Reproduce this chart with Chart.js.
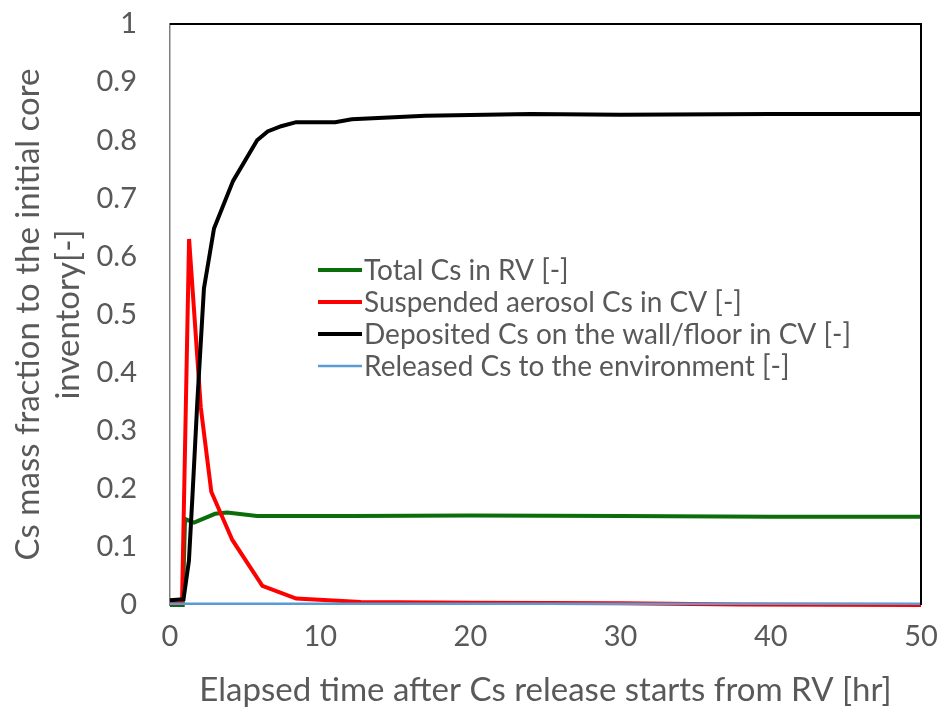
<!DOCTYPE html>
<html>
<head>
<meta charset="utf-8">
<script src="https://cdn.jsdelivr.net/npm/chart.js@4/dist/chart.umd.min.js"></script>
<style>
  html, body { margin: 0; padding: 0; background: #fff; }
  #wrap { width: 941px; height: 713px; }
</style>
</head>
<body>
<div id="wrap"><canvas id="cs" width="941" height="713"></canvas></div>
<script>
// Cs inventory split, hours after release starts from the RV
const rvTime = [0, 0.85, 1.0, 1.6, 3.0, 3.8, 5.8, 12, 20, 30, 40, 50];
const rvFrac = [0, 0, 0.148, 0.142, 0.157, 0.159, 0.153, 0.153, 0.154, 0.153, 0.152, 0.152];

const aeroTime = [0, 0.8, 1.27, 2.05, 2.75, 4.15, 6.15, 8.4, 12.7, 20, 30, 38, 50];
const aeroFrac = [0.003, 0.003, 0.63, 0.34, 0.195, 0.112, 0.033, 0.011, 0.005, 0.004, 0.003, 0.001, 0];

const depoTime = [0, 0.9, 1.26, 1.5, 1.82, 2.26, 2.93, 4.2, 5.8, 6.5, 7.4, 8.4, 11.0, 12.1, 17, 24, 30, 40, 50];
const depoFrac = [0.008, 0.01, 0.076, 0.19, 0.35, 0.545, 0.648, 0.73, 0.80, 0.815, 0.824, 0.831, 0.831, 0.836, 0.842, 0.845, 0.844, 0.845, 0.845];

const envTime = [0, 50];
const envFrac = [0.002, 0.002];

const seriesLabels = [
    'Total Cs in RV [-]',
    'Suspended aerosol Cs in CV [-]',
    'Deposited Cs on the wall/floor in CV [-]',
    'Released Cs to the environment [-]'
];
const xTitle = 'Elapsed time after Cs release starts from RV [hr]';
const yTitle = ['Cs mass fraction to the initial core', 'inventory[-]'];

const FONT = 'Lato, "Open Sans", sans-serif';
const TEXT = '#595959';

const pts = (ts, vs) => ts.map((t, i) => ({ x: t, y: vs[i] }));

// later series are painted over earlier ones
function line(label, data, color, width, order) {
    return {
        label, data, order,
        borderColor: color, backgroundColor: color,
        borderWidth: width, pointRadius: 0, tension: 0,
        clip: false
    };
}

// legend drawn inside the plot box, plus the black frame on top/right
const boxLegend = {
    id: 'boxLegend',
    afterDatasetsDraw(chart) {
        const { ctx, chartArea: a } = chart;
        ctx.save();
        ctx.strokeStyle = '#000';
        ctx.lineWidth = 2;
        ctx.beginPath();
        ctx.moveTo(a.left, a.top);
        ctx.lineTo(a.right, a.top);
        ctx.lineTo(a.right, a.bottom);
        ctx.stroke();

        const x0 = a.left + 148, y0 = 270, step = 32;
        ctx.font = '28px ' + FONT;
        ctx.textBaseline = 'middle';
        ctx.fillStyle = TEXT;
        chart.data.datasets.forEach((ds, i) => {
            const y = y0 + i * step;
            ctx.strokeStyle = ds.borderColor;
            ctx.lineWidth = ds.borderWidth;
            ctx.beginPath();
            ctx.moveTo(x0, y);
            ctx.lineTo(x0 + 44, y);
            ctx.stroke();
            ctx.fillText(ds.label, x0 + 46, y + 1);
        });
        ctx.restore();
    }
};

new Chart(document.getElementById('cs').getContext('2d'), {
    type: 'line',
    data: {
        datasets: [
            line(seriesLabels[0], pts(rvTime, rvFrac), '#0b6e0b', 4, 4),
            line(seriesLabels[1], pts(aeroTime, aeroFrac), '#ff0000', 4, 3),
            line(seriesLabels[2], pts(depoTime, depoFrac), '#000000', 4, 2),
            line(seriesLabels[3], pts(envTime, envFrac), '#5b9bd5', 2.5, 1)
        ]
    },
    options: {
        responsive: false,
        animation: false,
        layout: { padding: { left: 0, top: 24, right: 20, bottom: 3 } },
        plugins: { legend: { display: false }, tooltip: { enabled: false } },
        scales: {
            x: {
                type: 'linear', min: 0, max: 50,
                // tick marks hidden; tickLength only spaces the labels off the axis
                grid: { display: false, drawTicks: true, tickLength: 14 },
                border: { display: false },
                ticks: { stepSize: 10, padding: 0, color: TEXT, font: { family: FONT, size: 29 } },
                title: { display: true, text: xTitle, color: TEXT, padding: { top: 2, bottom: 0 }, font: { family: FONT, size: 33 } },
                afterFit: (s) => { s.height = 105; }
            },
            y: {
                min: 0, max: 1,
                grid: { display: false, drawTicks: true, tickLength: 33 },
                border: { display: true, color: '#7f7f7f', width: 1.5 },
                ticks: {
                    stepSize: 0.1, padding: 0, color: TEXT, font: { family: FONT, size: 29 },
                    callback: (v) => String(+v.toFixed(1))
                },
                title: { display: true, text: yTitle, color: TEXT, padding: { top: 8, bottom: 0 }, font: { family: FONT, size: 33, lineHeight: 1.21 } },
                afterFit: (s) => { s.width = 170; }
            }
        }
    },
    plugins: [boxLegend]
});
</script>
</body>
</html>
